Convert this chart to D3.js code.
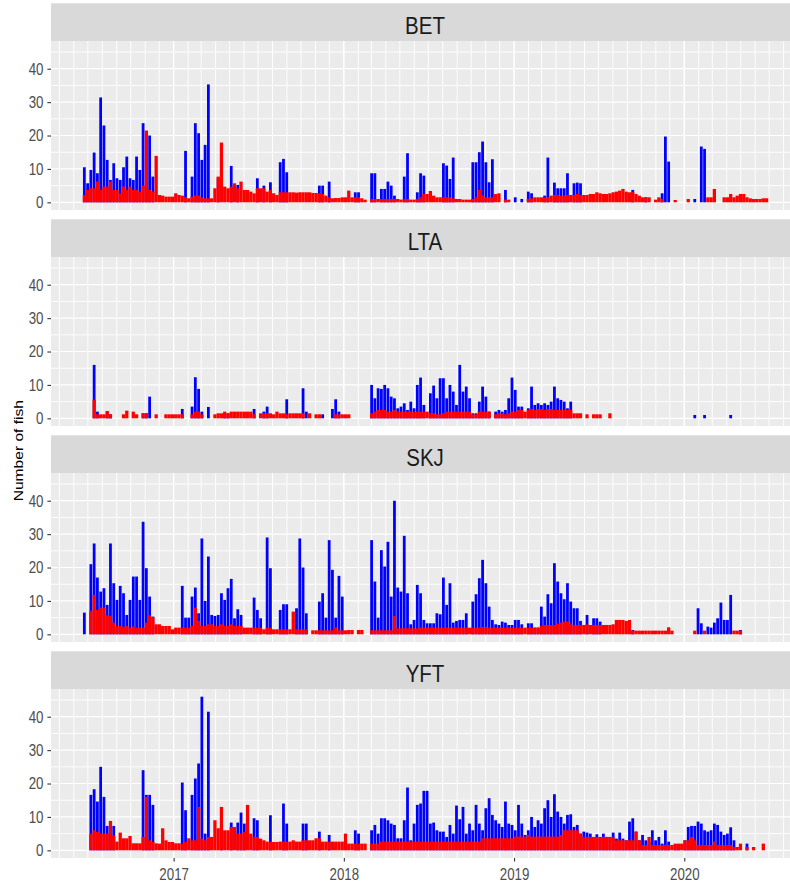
<!DOCTYPE html>
<html>
<head>
<meta charset="utf-8">
<script src="https://cdn.jsdelivr.net/npm/d3@7"></script>
<style>
  body { margin: 0; background: #ffffff; }
  svg { display: block; }
  text { font-family: "Liberation Sans", Arial, sans-serif; }
</style>
</head>
<body>
<svg id="chart" width="790" height="888"></svg>
<script>
// Weekly catch counts per species; bin k starts k weeks after firstWeek.
const species = ["BET", "LTA", "SKJ", "YFT"];
const firstWeek = "2016-06-20";
const yearTicks = ["2017-01-01", "2018-01-01", "2019-01-01", "2020-01-01"];
const yTicks = [0, 10, 20, 30, 40];
const yMinor = [5, 15, 25, 35, 45];

const betBlue = [
  10.5, 5.7, 9.7, 14.9, 8.7, 31.4, 23, 12.7, 6.7, 11.7,
  7.2, 6.7, 10.5, 13.7, 7.2, 6.7, 13.7, 9.7, 23.7, 8,
  20, 7.7, 0, 0, 0, 0, 0, 0, 0, 0,
  0, 15.4, 0, 7.7, 23.7, 20.7, 12.7, 17.2, 35.3, 0,
  0, 7.2, 0, 0, 0, 10.9, 0, 5.2, 0, 0,
  0, 0, 0, 7.2, 0, 5, 0, 6, 0, 0,
  12, 13, 9, 0, 0, 0, 0, 0, 0, 0,
  0, 0, 5, 5, 0, 6.2, 0, 0, 0, 0,
  0, 0, 0, 3, 3, 0, 0, 0, 8.7, 8.7,
  0, 4, 4, 6.2, 5, 2, 0, 0, 7.7, 14.7,
  0, 0, 3, 8.7, 8, 0, 0, 0, 0, 0,
  11.7, 11, 7, 13.4, 0, 0, 0, 0, 0, 12,
  12, 15, 18.2, 12, 6, 12.9, 0, 0, 0, 3.7,
  0, 0, 1.5, 0, 1, 0, 3.2, 2.7, 0, 0,
  0, 2, 13.4, 0, 5.9, 4.2, 4.2, 4.2, 8.7, 0,
  5.7, 5.9, 5.7, 0, 0, 0, 0, 0, 0, 0,
  0, 0, 0, 0, 0, 0, 0, 0, 3.7, 0,
  0, 0, 1.5, 0, 0, 0, 0, 2.7, 19.7, 12.2,
  0, 0, 0, 0, 0, 0, 0, 1, 0, 16.7,
  16, 0, 0, 0, 0, 0, 0, 0, 0, 0,
  0, 0, 0, 0, 0, 0, 0, 0, 0, 0, 0
];
const betRed = [
  2.2, 3.7, 4.2, 4.2, 6.2, 3.7, 4.7, 4.7, 6.2, 3.7,
  3.7, 2.7, 4.7, 3.7, 4.7, 3.7, 3.7, 3.2, 5, 21.5,
  3.7, 3.2, 13.9, 2.2, 2, 1.7, 1.7, 1.7, 2.7, 2.2,
  2, 1.5, 1.2, 1.7, 2, 2, 1.5, 1.2, 1.2, 1.2,
  4.2, 7.7, 17.9, 4.7, 4.2, 4.7, 5.7, 4.2, 6.2, 3.7,
  3.7, 3.2, 2.7, 4.2, 4.2, 4.2, 3.2, 3.7, 2.7, 2.2,
  3, 3, 3, 3, 3, 2.9, 3, 3, 3, 3,
  2.8, 2.8, 2.7, 2.5, 2, 1.5, 1.2, 1.3, 1.3, 1.5,
  1.5, 3.5, 1.5, 1.5, 1.5, 1.2, 0.8, 0, 1, 1,
  1, 1, 1, 1, 1, 1, 1, 0.8, 1, 1,
  0.8, 0.8, 1, 1.5, 2.5, 2.5, 3.4, 2, 1.5, 1.5,
  1.5, 1.5, 1.5, 1.2, 1, 1, 0.8, 0.8, 0.8, 1,
  1.5, 3.7, 2, 1.5, 1.5, 1.5, 2.5, 2.7, 0, 0.8,
  0.8, 0, 0, 0, 0, 0, 1, 1.2, 1.5, 1.5,
  1.5, 1.5, 1.5, 2, 2.2, 2.2, 2, 2, 2.2, 2.2,
  2.2, 2.5, 2.2, 2.2, 2.2, 2.5, 2.5, 3, 2.7, 2.5,
  2.5, 2.7, 3, 3.2, 3.5, 4, 3.2, 3, 3.2, 2.5,
  2, 1.5, 1.5, 1.5, 0, 0.8, 1.5, 1, 0, 0,
  0, 0.7, 0, 0, 0, 1, 0, 0, 0, 0,
  0, 1.5, 1.5, 4, 0, 0, 1.5, 1.5, 2.5, 1.5,
  2, 2.5, 2.5, 1.5, 1.2, 1, 1, 1, 1.2, 1.2, 0
];

const ltaBlue = [
  0, 0, 0, 16, 2, 0, 0, 2, 1.2, 0,
  0, 0, 0, 0, 0, 0, 0, 0, 1.5, 1.5,
  6.5, 0, 0, 0, 0, 0, 0, 0, 0, 0,
  2.8, 0, 0, 3.5, 12.3, 8.8, 2, 0, 3.4, 0,
  0, 0, 0, 1.5, 1.5, 0, 0, 0, 0, 0,
  0, 0, 2.8, 0, 0, 2, 3.5, 0, 0, 0,
  0, 0, 5.7, 0, 0, 0, 0, 9, 2, 0,
  0, 0, 0, 1.2, 0, 0, 2.8, 5.7, 2, 0,
  0, 0, 0, 0, 0, 0, 0, 0, 10, 6,
  9, 8.8, 10, 9, 6.5, 6, 3, 3.5, 4.5, 2.5,
  5, 3, 10, 12.2, 4, 0, 7.5, 9.8, 6, 12,
  12, 6, 10, 8, 4, 16, 8, 9.5, 6, 1.5,
  1.5, 5, 9.5, 6.5, 2, 0, 2, 2.5, 2, 2.5,
  6, 12.2, 8.5, 3.5, 3.5, 0, 3, 9.5, 4, 4.5,
  4, 4.5, 4, 5, 9.5, 6, 5.5, 5, 3, 5,
  0, 0, 0, 0, 0, 0, 0, 0, 0, 0,
  0, 0, 0, 0, 0, 0, 0, 0, 0, 0,
  0, 0, 0, 0, 0, 0, 0, 0, 0, 0,
  0, 0, 0, 0, 0, 0, 0, 1, 0, 0,
  1, 0, 0, 0, 0, 0, 0, 0, 1, 0,
  0, 0, 0, 0, 0, 0, 0, 0, 0, 0, 0
];
const ltaRed = [
  0, 0, 0, 5.6, 1.2, 1.2, 1.2, 2.2, 1.2, 0,
  0, 0, 1.2, 2.3, 0, 2, 1.2, 0, 1.5, 1.5,
  0, 0, 1.2, 0, 0, 1.2, 1.2, 1.2, 1.2, 1.2,
  1.2, 0, 0, 1.2, 2, 2, 1.2, 0, 0, 0,
  1.2, 1.5, 1.5, 2, 1.5, 2, 2, 2, 2, 2,
  2, 2, 1.2, 0, 1.5, 1.5, 1.5, 1.5, 1.2, 2,
  1.5, 1.5, 1.2, 1.5, 1.5, 1.5, 1.5, 1.5, 0, 1.5,
  0, 1.2, 1.2, 0, 0, 0, 0, 1.2, 1.2, 1.2,
  1.2, 1.2, 0, 0, 0, 0, 0, 0, 1.5, 2,
  2.5, 2.5, 2.5, 2, 2, 2.5, 2, 2, 2, 2,
  2, 2, 2, 2, 2, 2, 1.5, 1.5, 1.2, 1.2,
  1.5, 2, 2, 2, 2, 2, 2, 2, 2, 1.2,
  1.2, 2, 2, 2, 2, 0, 1.2, 1.5, 1.5, 1.2,
  1.5, 2, 2, 2.5, 2.5, 2, 2.5, 2.8, 2.5, 2.8,
  2.8, 2.5, 2.8, 2.8, 2.5, 2.5, 2.5, 2.5, 2.5, 2.5,
  1.5, 1.5, 1.5, 0, 1.2, 0, 1.2, 1.2, 1.2, 0,
  0, 1.5, 0, 0, 0, 0, 0, 0, 0, 0,
  0, 0, 0, 0, 0, 0, 0, 0, 0, 0,
  0, 0, 0, 0, 0, 0, 0, 0, 0, 0,
  0, 0, 0, 0, 0, 0, 0, 0, 0, 0,
  0, 0, 0, 0, 0, 0, 0, 0, 0, 0, 0
];

const skjBlue = [
  6.5, 0, 21, 27.2, 17, 12.8, 13.8, 8.8, 27.2, 15.3,
  10.3, 14.5, 12.3, 5.8, 10.3, 17.3, 17.3, 10.3, 33.7, 19.8,
  11.3, 5.3, 0, 0, 0, 0, 0, 0, 0, 0,
  14.5, 5, 5, 11.3, 14, 6.3, 28.7, 10, 23.3, 5.8,
  5.5, 5.8, 12.3, 10.3, 13.8, 16.6, 4.8, 7.5, 5.8, 0,
  0, 0, 11, 7.3, 4.8, 0, 29, 19.8, 0, 0,
  7.3, 9, 9, 0, 0, 7.8, 28.7, 20, 6.3, 0,
  0, 0, 9.8, 12.3, 5, 28.2, 19.3, 5, 17.5, 11.3,
  0, 0, 0, 0, 0, 0, 0, 0, 28.2, 15.8,
  5, 25.2, 20.3, 27.7, 11.3, 40, 14, 12.8, 29.5, 12.3,
  3, 4.3, 14.8, 12.3, 4.3, 3.3, 3.3, 3.3, 6.3, 6,
  17, 8.8, 15.3, 3.5, 4, 4.3, 4.3, 6.3, 0, 9.8,
  12, 16.8, 22.3, 15.3, 8.3, 4.3, 3, 2.8, 3.8, 3.5,
  2.8, 2.8, 4.3, 4.3, 3, 0, 3.3, 3.3, 2, 2,
  8.3, 5.3, 12, 9.3, 21.3, 15.8, 12.3, 10.5, 15.3, 9.8,
  7.8, 7.8, 4, 0, 5.8, 0, 4.8, 4.8, 3.8, 0,
  0, 0, 0, 0, 0, 0, 0, 0, 1.3, 0,
  0, 0, 0, 0, 0, 0, 0, 0, 0, 0,
  0, 0, 0, 0, 0, 0, 0, 0, 7.8, 3.3,
  0, 2.3, 2, 3.5, 4.8, 9.5, 4.3, 4.3, 11.8, 0,
  0, 1.3, 0, 0, 0, 0, 0, 0, 0, 0, 0
];
const skjRed = [
  0, 0, 7, 11.8, 7.3, 8, 8, 5.7, 5.5, 3.5,
  2.5, 2.5, 2.3, 2.5, 2, 2.3, 2, 2, 2, 3.5,
  5.7, 5.2, 3, 3, 2.5, 2.5, 2.5, 1.5, 2, 2,
  2, 2, 2, 2.5, 8, 4, 2.5, 2.5, 3, 3,
  2.5, 2.5, 3, 2.5, 2.5, 3, 2.5, 2.5, 2.5, 2,
  2, 2, 2, 2, 2, 1.5, 2, 2, 1.5, 1.5,
  1.5, 1.5, 1.5, 1.5, 6.8, 1.5, 1.5, 1.5, 1.5, 0,
  1.2, 1.2, 1.2, 1.2, 1.2, 1.2, 1.2, 2, 1.2, 1.2,
  1.2, 1.3, 1.3, 0, 1.3, 1.3, 0, 0, 1.2, 1.2,
  1.2, 1.2, 1.2, 1.2, 1.2, 5.5, 1.8, 1.8, 1.8, 1.8,
  1.8, 1.8, 1.8, 2, 2, 2, 2, 2, 2, 2,
  2, 2, 2, 2, 2, 2, 2, 2, 2, 2,
  2, 2, 2.2, 2.2, 2, 2, 2, 2, 2, 2,
  2, 2, 2, 2, 2, 2, 2, 2, 2, 2,
  2.5, 2.8, 2.8, 2.8, 2.8, 3.2, 3.5, 3.8, 3.8, 3,
  2.8, 2.8, 2.8, 2.8, 3, 2.8, 2.8, 2.8, 2.8, 2.8,
  2.8, 2.8, 3, 4.3, 4.3, 4.3, 4, 4.3, 1.1, 1.1,
  1.1, 1.1, 1.1, 1.1, 1.1, 1.1, 1.1, 1.1, 1.1, 2.1,
  1.1, 0, 0, 0, 0, 0, 0, 1.1, 0, 0,
  1.1, 0, 0, 0, 0, 0, 0, 0, 0, 1.1,
  1.1, 1.1, 0, 0, 0, 0, 0, 0, 0, 0, 0
];

const yftBlue = [
  0, 0, 16.6, 18.3, 14.6, 25, 16, 7.3, 8, 7.3,
  0, 0, 0, 0, 0, 0, 0, 0, 24, 16.6,
  16.6, 13.6, 0, 0, 0, 0, 0, 0, 0, 0,
  20.3, 12, 0, 16.6, 21.5, 26, 46, 5, 41.5, 0,
  0, 0, 8.6, 0, 0, 8.3, 0, 8.3, 11.3, 8,
  0, 0, 9.6, 9, 0, 0, 0, 10.5, 0, 0,
  0, 14, 8, 0, 0, 0, 0, 8, 8, 0,
  0, 0, 5.6, 0, 0, 4.6, 0, 0, 0, 0,
  0, 0, 0, 6, 5, 0, 0, 0, 6, 7.6,
  5, 9.6, 9.6, 9, 8, 7.6, 3.6, 3.6, 9, 18.8,
  3, 8, 13.6, 14, 17.8, 17.8, 8, 8.3, 6, 5.6,
  5.6, 4, 7.6, 5, 13.4, 9.3, 13, 5, 8, 6,
  13.6, 8, 6, 12.6, 15.6, 10.6, 9, 8, 7, 14.6,
  8, 7.6, 6, 13.6, 8, 4.6, 6, 10, 7, 9,
  8, 12.6, 15, 10, 16.8, 11.6, 10, 8, 10.6, 10.8,
  7, 7.6, 5, 5.6, 5.3, 5, 4, 4.8, 4, 5,
  4, 4, 5.3, 3.5, 5.3, 3.5, 3, 8.6, 9.6, 5.6,
  3, 4.6, 3, 2.6, 6, 3, 4, 2, 6, 2.6,
  0, 1.6, 1.6, 0, 3, 7, 7.3, 7.3, 8.6, 8,
  6, 5.6, 6, 8, 7.6, 5.6, 4.6, 5, 6.9, 3,
  0, 0, 0, 2, 0, 0, 0, 0, 0, 0, 0
];
const yftRed = [
  0, 0, 5, 6, 5.5, 5, 5, 5, 8.8, 4.5,
  2.6, 5.3, 3.6, 3.6, 4.3, 2.1, 2.1, 2.1, 4, 16,
  3, 2.5, 2.1, 2, 6.6, 3, 2.5, 2.5, 2.1, 2.1,
  2, 2.5, 3.6, 3, 3, 13, 3.5, 3, 4, 4,
  9, 6.6, 13, 6, 6, 7, 7, 5, 5, 5.5,
  13.6, 5, 4, 4, 3.5, 3, 2.6, 2.6, 2.5, 2.5,
  2.6, 2.6, 2.6, 2.6, 3, 2.6, 2.6, 3, 3, 3,
  3, 3.6, 3.6, 2.6, 2.6, 2.6, 2.6, 2.6, 2.6, 2.6,
  5, 2, 2, 2, 2, 2, 2, 0, 2, 2,
  2, 2.6, 2.6, 2.6, 2.6, 2.6, 2.6, 2.6, 2.6, 2.6,
  2.6, 2.6, 2.6, 2.6, 2.6, 2.6, 2.6, 2.6, 2.6, 2.6,
  2.6, 2.6, 2.6, 2.6, 2.6, 2.6, 2.6, 2.6, 2.6, 2.6,
  2.6, 2.6, 3.6, 3.6, 3.6, 3.6, 3.6, 3.6, 3.6, 3.6,
  3.6, 3.6, 4.1, 4.1, 4.1, 4.1, 4.6, 4.1, 4.1, 4.1,
  4.1, 4.1, 4.1, 4.1, 4.1, 4.1, 4.6, 6, 6, 6,
  6, 6, 5, 4, 4, 4, 4, 4, 4, 4,
  4, 4, 4, 3, 3, 3, 3, 3, 3, 5.6,
  3, 1.6, 1.6, 4, 1.6, 1.6, 1.6, 1.6, 1.6, 1.6,
  1.6, 2, 2, 2, 3, 3, 4, 3, 1.6, 1.6,
  1.6, 1.6, 1.6, 2.6, 1.6, 1.6, 1.6, 1.6, 1.6, 1,
  1, 2, 0, 1, 0, 1, 0, 0, 2, 0, 0
];

const seriesBySpecies = {
  BET: { blue: betBlue, red: betRed },
  LTA: { blue: ltaBlue, red: ltaRed },
  SKJ: { blue: skjBlue, red: skjRed },
  YFT: { blue: yftBlue, red: yftRed }
};

// ---- layout ----
const svg = d3.select("#chart");
const panelLeft = 51, panelRight = 799;
const firstStripTop = 3.3, stripH = 37.7, plotH = 169, panelStep = 216;
const textStretch = 1.2;
const blueFill = 0.85;   // share of each weekly slot covered by a blue bar

const parse = d3.utcParse("%Y-%m-%d");
const start0 = parse(firstWeek);
const x = d3.scaleUtc()
  .domain([new Date(Date.UTC(2016, 3, 13)), new Date(Date.UTC(2020, 8, 3))])
  .range([panelLeft, panelRight]);
const monthLines = d3.utcMonth.range(x.domain()[0], x.domain()[1]);
const yearDates = yearTicks.map(parse);

species.forEach((sp, i) => {
  const stripTop = firstStripTop + i * panelStep;
  const plotTop = stripTop + stripH;
  const plotBottom = plotTop + plotH;
  const y = d3.scaleLinear().domain([-2.3, 48.3]).range([plotBottom, plotTop]);
  const g = svg.append("g");

  // strip
  g.append("rect").attr("x", panelLeft).attr("y", stripTop)
    .attr("width", panelRight - panelLeft).attr("height", stripH).attr("fill", "#D9D9D9");
  const cx = (panelLeft + panelRight) / 2, cy = stripTop + 30.5;
  g.append("text").text(sp)
    .attr("transform", `translate(${cx},${cy}) scale(1,${textStretch})`)
    .attr("text-anchor", "middle").attr("font-size", 20.5).attr("fill", "#1A1A1A");

  // panel background
  g.append("rect").attr("x", panelLeft).attr("y", plotTop)
    .attr("width", panelRight - panelLeft).attr("height", plotH).attr("fill", "#EBEBEB");

  // grid
  const grid = g.append("g").attr("stroke", "#FFFFFF");
  grid.selectAll(".hmin").data(yMinor).join("line")
    .attr("x1", panelLeft).attr("x2", panelRight)
    .attr("y1", d => y(d)).attr("y2", d => y(d)).attr("stroke-width", 0.9);
  grid.selectAll(".vmin").data(monthLines).join("line")
    .attr("x1", d => x(d)).attr("x2", d => x(d))
    .attr("y1", plotTop).attr("y2", plotBottom).attr("stroke-width", 0.9);
  grid.selectAll(".hmaj").data(yTicks).join("line")
    .attr("x1", panelLeft).attr("x2", panelRight)
    .attr("y1", d => y(d)).attr("y2", d => y(d)).attr("stroke-width", 1.2);
  grid.selectAll(".vmaj").data(yearDates).join("line")
    .attr("x1", d => x(d)).attr("x2", d => x(d))
    .attr("y1", plotTop).attr("y2", plotBottom).attr("stroke-width", 1.2);

  // bars: blue behind, red in front
  const bars = (values, color, share) => {
    const rows = values.map((v, k) => ({
      v, s: d3.utcDay.offset(start0, 7 * k), e: d3.utcDay.offset(start0, 7 * (k + 1))
    })).filter(d => d.v > 0);
    g.append("g").selectAll("rect").data(rows).join("rect")
      .attr("x", d => x(d.s) + (1 - share) * (x(d.e) - x(d.s)) / 2)
      .attr("width", d => share * (x(d.e) - x(d.s)))
      .attr("y", d => y(d.v)).attr("height", d => y(0) - y(d.v))
      .attr("fill", color);
  };
  bars(seriesBySpecies[sp].blue, "#0000FF", blueFill);
  bars(seriesBySpecies[sp].red, "#FF0000", 1);

  // y axis
  const ya = g.append("g").attr("transform", `translate(${panelLeft},0)`)
    .call(d3.axisLeft(y).tickValues(yTicks).tickSize(3.6).tickPadding(3));
  ya.select(".domain").remove();
  ya.selectAll(".tick line").attr("stroke", "#333333").attr("stroke-width", 1.1);
  ya.selectAll(".tick text").attr("fill", "#4D4D4D").attr("font-size", 13.3)
    .attr("font-family", "'Liberation Sans', Arial, sans-serif")
    .attr("x", -7.5).attr("dy", null).attr("y", 0)
    .attr("transform", `scale(1,${textStretch})`)
    .attr("dominant-baseline", "central");

  // x axis on the bottom panel only
  if (i === species.length - 1) {
    const xa = g.append("g").attr("transform", `translate(0,${plotBottom})`)
      .call(d3.axisBottom(x).tickValues(yearDates).tickFormat(d3.utcFormat("%Y"))
        .tickSize(3.6).tickPadding(3));
    xa.select(".domain").remove();
    xa.selectAll(".tick line").attr("stroke", "#333333").attr("stroke-width", 1.1);
    xa.selectAll(".tick text").attr("fill", "#4D4D4D").attr("font-size", 13.3)
      .attr("font-family", "'Liberation Sans', Arial, sans-serif")
      .attr("dy", null).attr("y", 0)
      .attr("transform", `translate(0,16.5) scale(1,${textStretch})`)
      .attr("dominant-baseline", "central");
  }
});

// y axis title
const midY = (firstStripTop + (firstStripTop + 3 * panelStep + stripH + plotH)) / 2 + 20;
svg.append("text").text("Number of fish")
  .attr("transform", `translate(22.5,${midY}) scale(1,${textStretch}) rotate(-90)`)
  .attr("text-anchor", "middle").attr("font-size", 13).attr("fill", "#000000");
</script>
</body>
</html>
